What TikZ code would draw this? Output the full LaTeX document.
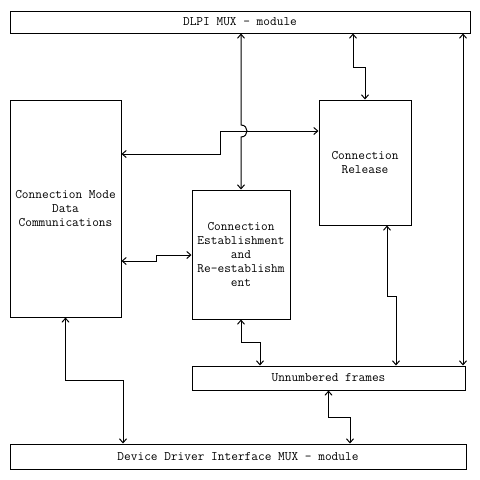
\documentclass[tikz,border=0pt]{standalone}
\usepackage{fontspec}
\usepackage{tikz}
\usetikzlibrary{arrows.meta}

\begin{document}
\begin{tikzpicture} [x=1pt, y=-1pt, line width=1pt,
  every node/.style={draw, rectangle, inner sep=0pt, align=center,
    font=\ttfamily\fontsize{13}{14}\selectfont},
  >={Straight Barb[length=4pt,width=7pt]}]
\tikzstyle{link}=[<->]
\useasboundingbox (0,0) rectangle (480,480);

\node [minimum width=460, minimum height=22] (dlpi) at (240,22) {DLPI MUX - module};
\node [minimum width=111, minimum height=217] (mode) at (65.5,208.5)
  {Connection Mode\\Data\\Communications};
\node [minimum width=92, minimum height=125] (rel) at (365,162.5)
  {Connection\\Release};
\node [minimum width=98, minimum height=129] (est) at (241,254.5)
  {Connection\\Establishment\\and\\Re-establishm\\ent};
\node [minimum width=273, minimum height=24] (unn) at (328.5,378) {Unnumbered frames};
\node [minimum width=456, minimum height=25] (ddi) at (238,456.5)
  {Device Driver Interface MUX - module};

% top module
\draw [link] (dlpi.south -| est.north) -- (241,125)
  .. controls (249,125) and (249,137) .. (241,137) -- (est.north);
\draw [link] (353,0 |- dlpi.south) -- (353,67) -| (rel.north);
\draw [link] (463,0 |- dlpi.south) -- (463,0 |- unn.north);

% between the blocks
\draw [link] (mode.east |- 0,154) -- (220,154) -- (220,131) -- (rel.west |- 0,131);
\draw [link] (mode.east |- 0,261) -- (156,261) -- (156,255) -- (est.west |- 0,255);
\draw [link] (387,0 |- rel.south) -- (387,296) -| (396,0 |- unn.north);
\draw [link] (est.south) -- (241,342) -| (260,0 |- unn.north);

% device driver
\draw [link] (mode.south) -- (65.5,380) -| (123,0 |- ddi.north);
\draw [link] (unn.south) -- (328.5,417) -| (350,0 |- ddi.north);
\end{tikzpicture}
\end{document}
